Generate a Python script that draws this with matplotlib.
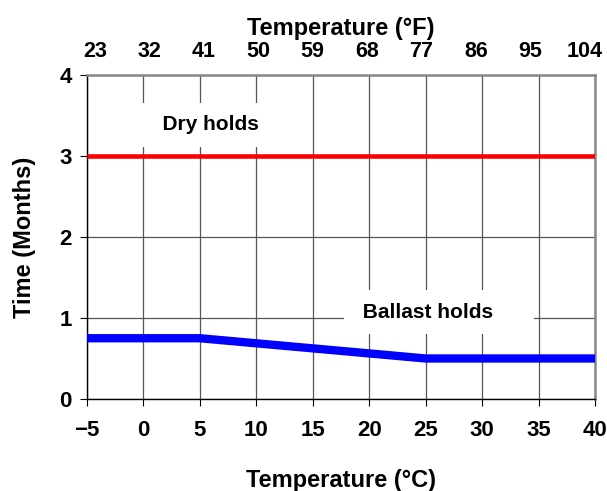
import matplotlib
matplotlib.use("Agg")
import matplotlib.pyplot as plt

plt.rcParams['font.family'] = ['Liberation Sans', 'DejaVu Sans']
plt.rcParams['font.weight'] = 'bold'

temp_c_ticks = [-5, 0, 5, 10, 15, 20, 25, 30, 35, 40]
temp_f_ticks = [23, 32, 41, 50, 59, 68, 77, 86, 95, 104]
y_ticks = [0, 1, 2, 3, 4]

dry_x = [-5, 40]
dry_y = [3, 3]
ballast_x = [-5, 5, 25, 40]
ballast_y = [0.75, 0.75, 0.5, 0.5]

fig = plt.figure(figsize=(6.07, 4.91), dpi=100)
ax = fig.add_axes([0.1433, 0.1874, 0.8370, 0.6599])
ax.set_xlim(-5, 40)
ax.set_ylim(0, 4)
ax.set_xticks(temp_c_ticks)
ax.set_yticks(y_ticks)
ax.grid(True, color='#555555', linewidth=0.9, zorder=0)
ax.plot(dry_x, dry_y, color='#ff0000', linewidth=3.3, solid_capstyle='butt', zorder=3)
ax.plot(ballast_x, ballast_y, color='#0000ff', linewidth=6, solid_capstyle='butt', zorder=3)

ax.text(6, 3.32, '  Dry holds  ', ha='center', va='baseline', fontsize=15, fontweight='bold',
        bbox=dict(facecolor='white', edgecolor='none', pad=9), zorder=2)
ax.text(26.2, 1.0, ' Ballast holds     ', ha='center', va='baseline', fontsize=15, fontweight='bold',
        bbox=dict(facecolor='white', edgecolor='none', pad=9), zorder=2)

for s in ['top', 'right']:
    ax.spines[s].set_color('#888888')
    ax.spines[s].set_linewidth(1.8)
for s in ['left', 'bottom']:
    ax.spines[s].set_color('black')
    ax.spines[s].set_linewidth(1.0)

ax.tick_params(axis='both', labelsize=16, direction='out', length=5, width=0.8)
ax.tick_params(axis='x', pad=10)
ax.tick_params(axis='y', pad=6)
for lab in ax.get_xticklabels() + ax.get_yticklabels():
    lab.set_fontweight('bold')
ax.set_xlabel('Temperature (°C)', fontsize=17, fontweight='bold', labelpad=20)
ax.set_ylabel('Time (Months)', fontsize=17, fontweight='bold', labelpad=17)

top = ax.twiny()
top.set_xlim(21.7, 105.7)
top.set_xticks(temp_f_ticks)
top.set_xticklabels([str(v) for v in temp_f_ticks], fontsize=15.5, fontweight='bold')
top.tick_params(axis='x', length=0, pad=9)
top.set_xlabel('Temperature (°F)', fontsize=17, fontweight='bold', labelpad=5)
for s in top.spines.values():
    s.set_visible(False)

fig.savefig('out.png', dpi=100)
